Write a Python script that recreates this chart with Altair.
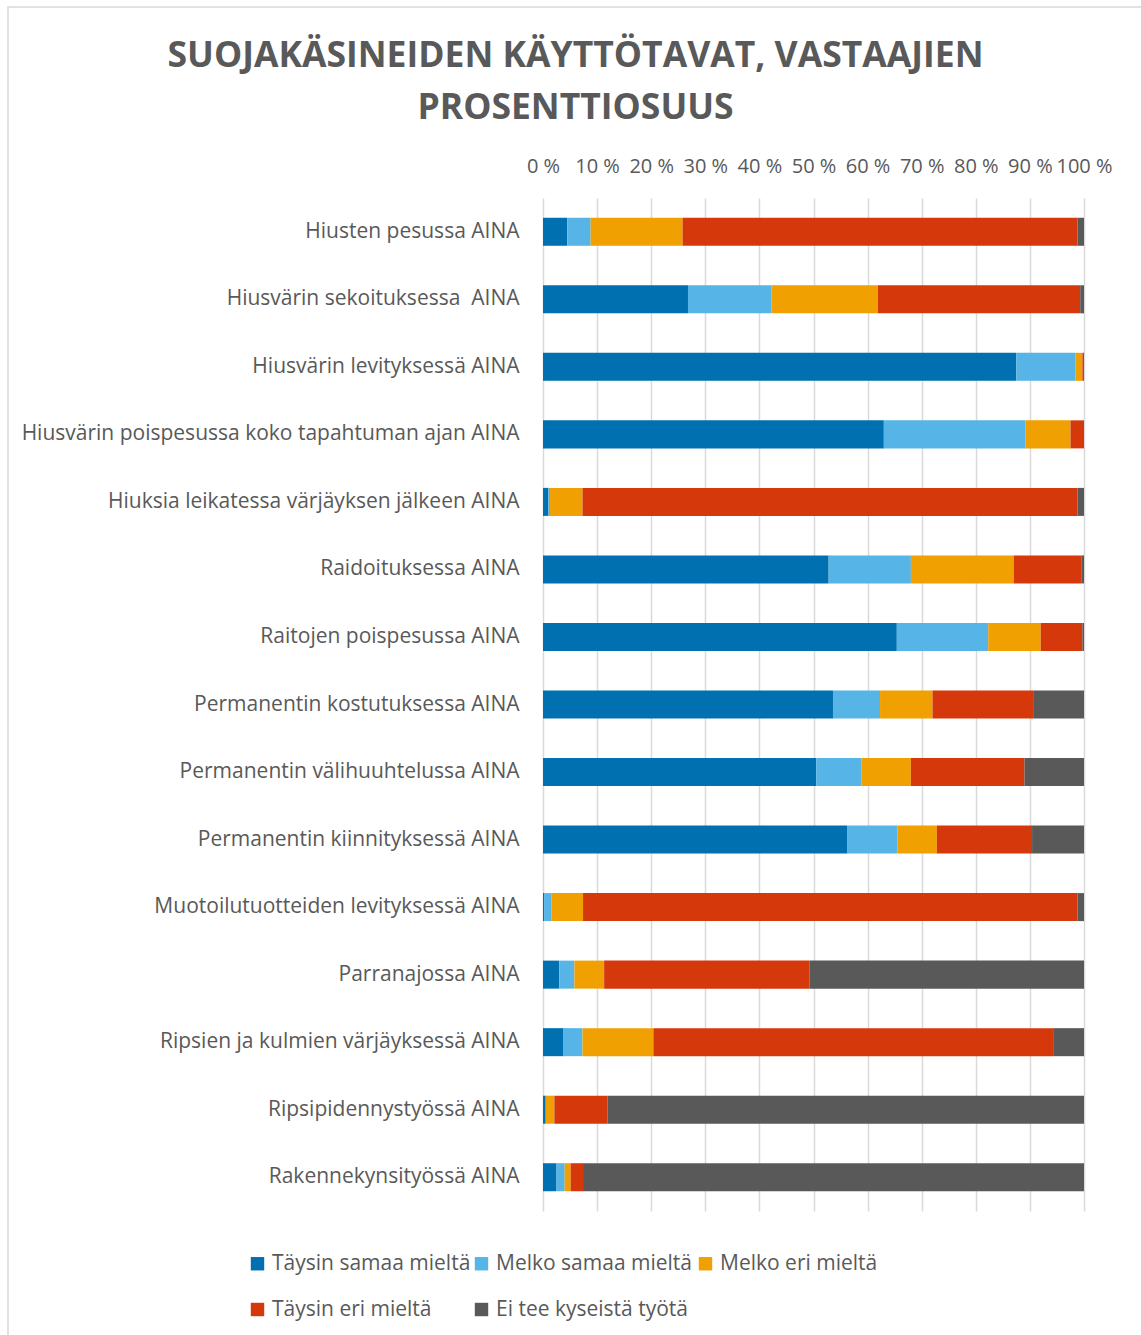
import altair as alt
import pandas as pd

categories = [
    "Hiusten pesussa AINA",
    "Hiusvärin sekoituksessa\u00a0 AINA",
    "Hiusvärin levityksessä AINA",
    "Hiusvärin poispesussa koko tapahtuman ajan AINA",
    "Hiuksia leikatessa värjäyksen jälkeen AINA",
    "Raidoituksessa AINA",
    "Raitojen poispesussa AINA",
    "Permanentin kostutuksessa AINA",
    "Permanentin välihuuhtelussa AINA",
    "Permanentin kiinnityksessä AINA",
    "Muotoilutuotteiden levityksessä AINA",
    "Parranajossa AINA",
    "Ripsien ja kulmien värjäyksessä AINA",
    "Ripsipidennystyössä AINA",
    "Rakennekynsityössä AINA",
]
series = ["Täysin samaa mieltä", "Melko samaa mieltä", "Melko eri mieltä",
          "Täysin eri mieltä", "Ei tee kyseistä työtä"]
taysin_samaa = [4.5, 26.8, 87.5, 63.0, 1.0, 52.8, 65.4, 53.6, 50.5, 56.2, 0.2, 3.0, 3.8, 0.5, 2.5]
melko_samaa = [4.3, 15.4, 10.9, 26.2, 0.3, 15.2, 16.9, 8.7, 8.4, 9.3, 1.4, 2.8, 3.5, 0.0, 1.5]
melko_eri = [17.0, 19.7, 1.3, 8.3, 6.0, 19.0, 9.7, 9.7, 9.1, 7.3, 5.8, 5.5, 13.1, 1.6, 1.1]
taysin_eri = [73.0, 37.4, 0.3, 2.5, 91.5, 12.5, 7.7, 18.6, 21.0, 17.6, 91.4, 38.0, 73.9, 9.8, 2.3]
ei_tee = [1.2, 0.7, 0.0, 0.0, 1.2, 0.5, 0.3, 9.4, 11.0, 9.6, 1.2, 50.7, 5.7, 88.1, 92.6]
colors = ["#0070B0", "#56B4E6", "#F0A000", "#D5390B", "#595959"]

cols = [taysin_samaa, melko_samaa, melko_eri, taysin_eri, ei_tee]
rows = []
for ci, c in enumerate(categories):
    for si, s in enumerate(series):
        rows.append({"kategoria": c, "sarja": s, "arvo": cols[si][ci], "jarjestys": si})
df = pd.DataFrame(rows)

FONT = "Open Sans"
TXT = "#595959"

bars = alt.Chart(df).mark_bar().encode(
    y=alt.Y("kategoria:N", sort=categories, title=None,
            scale=alt.Scale(paddingInner=0.585, paddingOuter=0.2925),
            axis=alt.Axis(labelFont=FONT, labelFontSize=21, labelColor=TXT,
                          labelPadding=24, ticks=False, domain=False, labelLimit=600)),
    x=alt.X("arvo:Q", stack="normalize", title=None,
            scale=alt.Scale(domain=[0, 1]),
            axis=alt.Axis(orient="top", values=[i / 10 for i in range(11)],
                          labelExpr="round(datum.value*100) + ' %'",
                          labelFont=FONT, labelFontSize=20, labelColor=TXT,
                          labelPadding=22, ticks=False, domain=False,
                          grid=True, gridColor="#D9D9D9", gridWidth=1.5,
                          labelOverlap=False, labelFlush=False)),
    color=alt.Color("sarja:N", sort=series,
                    scale=alt.Scale(domain=series, range=colors),
                    legend=alt.Legend(title=None, orient="none", legendX=-296, legendY=1055,
                                      direction="horizontal", columns=3, gridAlign="all",
                                      symbolType="square", symbolSize=180, symbolStrokeWidth=0,
                                      labelFont=FONT, labelFontSize=21, labelColor=TXT,
                                      labelOffset=4, columnPadding=0, rowPadding=24,
                                      labelLimit=400)),
    order=alt.Order("jarjestys:Q", sort="ascending"),
)

frame = alt.Chart(pd.DataFrame({"a": [0]})).mark_rect(
    fill=None, stroke="#D9D9D9", strokeWidth=1.5
).encode(x=alt.value(-535), x2=alt.value(610), y=alt.value(-191), y2=alt.value(1150))

chart = alt.layer(frame, bars).properties(
    width=541, height=1013,
    title=alt.TitleParams(
        text=["SUOJAKÄSINEIDEN KÄYTTÖTAVAT, VASTAAJIEN", "PROSENTTIOSUUS"],
        font=FONT, fontSize=35.5, fontWeight="bold", color=TXT,
        anchor="middle", dx=-238, offset=-120, lineHeight=52),
    autosize=alt.AutoSizeParams(type="none"),
    padding={"left": 543, "top": 198, "right": 57, "bottom": 124},
).configure(background="white", view=alt.ViewConfig(stroke=None))

chart.save("out.html", embed_options={"renderer": "svg", "actions": False})
